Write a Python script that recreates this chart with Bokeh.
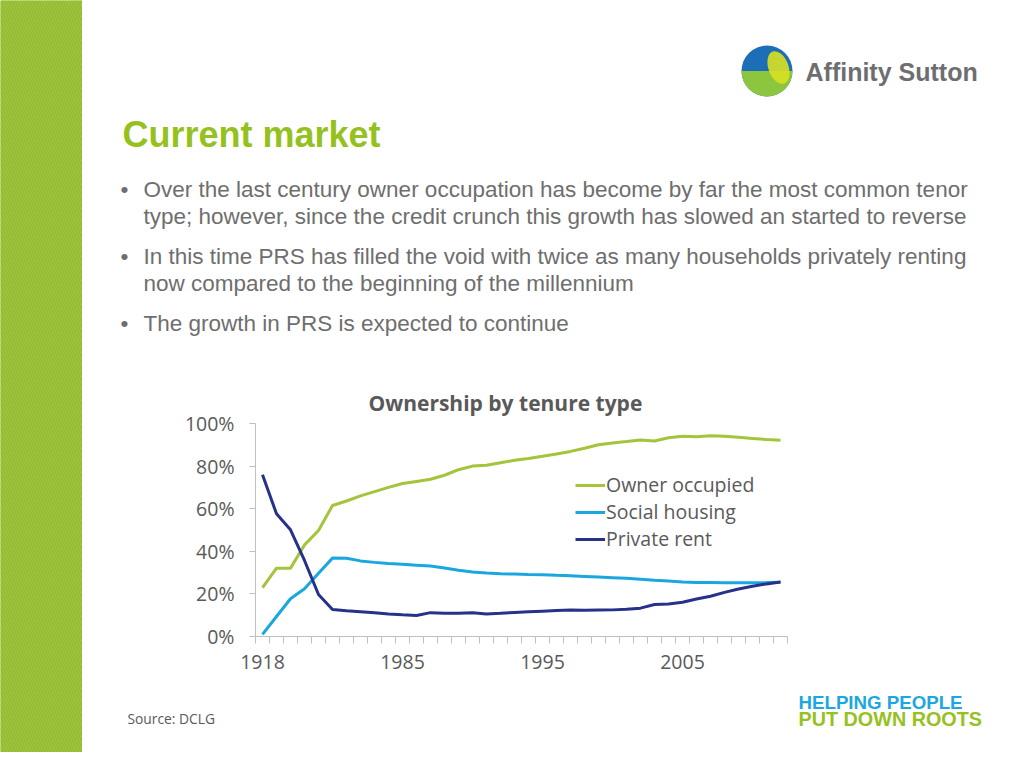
import math
from bokeh.plotting import figure
from bokeh.layouts import row, column
from bokeh.models import (Range1d, FixedTicker, PrintfTickFormatter, Label,
                          BoxAnnotation, Legend, LegendItem)
from bokeh.embed import file_html
from bokeh.resources import INLINE

# ---------------- data ----------------
years = ["1918", "1939", "1953", "1961", "1971", "1980", "1981", "1982", "1983", "1984",
         "1985", "1986", "1987", "1988", "1989", "1990", "1991", "1992", "1993", "1994",
         "1995", "1996", "1997", "1998", "1999", "2000", "2001", "2002", "2003", "2004",
         "2005", "2006", "2007", "2008", "2009", "2010", "2011", "2012"]
owner_occupied = [22.9, 32.1, 32.1, 43.0, 49.8, 61.5, 63.6, 66.0, 68.0, 70.0,
                  71.8, 72.8, 73.8, 75.7, 78.3, 80.0, 80.4, 81.6, 82.7, 83.6,
                  84.6, 85.7, 86.9, 88.4, 90.0, 90.8, 91.5, 92.3, 91.8, 93.3,
                  94.0, 93.8, 94.2, 94.0, 93.5, 93.0, 92.5, 92.1]
social_housing = [1.0, 9.4, 17.7, 22.4, 29.7, 36.8, 36.7, 35.5, 34.8, 34.3,
                  33.9, 33.5, 33.1, 32.2, 31.1, 30.3, 29.8, 29.5, 29.3, 29.1,
                  29.0, 28.7, 28.5, 28.2, 27.9, 27.6, 27.3, 26.9, 26.4, 26.0,
                  25.6, 25.4, 25.3, 25.2, 25.2, 25.2, 25.3, 25.5]
private_rent = [75.9, 57.6, 50.1, 35.7, 19.7, 12.7, 12.1, 11.6, 11.1, 10.6,
                10.2, 9.9, 11.2, 10.9, 10.9, 11.2, 10.6, 10.9, 11.3, 11.6,
                11.9, 12.2, 12.4, 12.3, 12.4, 12.5, 12.8, 13.3, 15.0, 15.3,
                16.1, 17.6, 18.9, 20.7, 22.3, 23.6, 24.7, 25.6]
series_names = ["Owner occupied", "Social housing", "Private rent"]
y_ticks = [0, 20, 40, 60, 80, 100]
label_every = 10

title_text = "Current market"
bullets = [
    ["Over the last century owner occupation has become by far the most common tenor",
     "type; however, since the credit crunch this growth has slowed an started to reverse"],
    ["In this time PRS has filled the void with twice as many households privately renting",
     "now compared to the beginning of the millennium"],
    ["The growth in PRS is expected to continue"],
]
chart_title = "Ownership by tenure type"
source_text = "Source: DCLG"
logo_text = "Affinity Sutton"
strap_lines = ["HELPING PEOPLE", "PUT DOWN ROOTS"]

# ---------------- styles ----------------
GREEN = "#a3c43b"
LBLUE = "#1aa7e0"
NAVY = "#26318a"
GRAY_TXT = "#6e6e6e"
AX_TXT = "#595959"
AX_LINE = "#bfbfbf"
CH_FONT = "Open Sans"
CH_SIZE = "19.5px"

TOTAL_W, TOTAL_H = 1008, 752
STRIPE_W = 82
RIGHT_W = TOTAL_W - STRIPE_W
HEAD_H, CHART_H = 378, 302
FOOT_H = TOTAL_H - HEAD_H - CHART_H


def blank(width, height, x0, x1, y0, y1):
    f = figure(width=width, height=height, output_backend="svg", toolbar_location=None,
               x_range=Range1d(x0, x1), y_range=Range1d(y1, y0),
               x_axis_type=None, y_axis_type=None, min_border=0, frame_align=False)
    f.grid.visible = False
    f.outline_line_color = None
    f.background_fill_color = "white"
    f.border_fill_color = "white"
    return f


def text(f, x, y, s, size, color, font="Liberation Sans", style="normal",
         align="left"):
    # y is the visual centre of the text line
    f.add_layout(Label(x=x, y=y, text=s, text_font=font, text_font_size=size,
                       text_font_style=style, text_color=color,
                       text_align=align, text_baseline="middle"))


# ---------------- left stripe ----------------
stripe = figure(width=STRIPE_W, height=TOTAL_H, output_backend="svg", toolbar_location=None,
                x_range=Range1d(0, 1), y_range=Range1d(0, 1),
                x_axis_type=None, y_axis_type=None, min_border=0, frame_align=False)
stripe.grid.visible = False
stripe.outline_line_color = None
stripe.background_fill_color = "#a0c53d"
stripe.border_fill_color = "#a0c53d"
stripe.add_layout(BoxAnnotation(fill_color="#a0c53d", fill_alpha=1, line_color=None,
                                hatch_pattern="left_diagonal_line", hatch_color="#94ba34",
                                hatch_scale=6, hatch_weight=1.5))

# ---------------- header (page pixel coordinates) ----------------
head = blank(RIGHT_W, HEAD_H, STRIPE_W, TOTAL_W, 0, HEAD_H)
head.circle(x=[766.5], y=[70.5], radius=25.5, fill_color="#1c6fb7", line_color=None)
head.wedge(x=[766.5], y=[70.5], radius=25.5, start_angle=math.pi * 1.0,
           end_angle=math.pi * 2.0, fill_color="#8cc63f", line_color=None)
head.ellipse(x=[778], y=[67], width=20, height=34, angle=0.35,
             fill_color="#d9e021", fill_alpha=0.9, line_color=None)
text(head, 805, 71, logo_text, "25px", "#6d6e71", style="bold")

text(head, 122, 134, title_text, "36px", "#95c11f", style="bold")
line_centres = [[189, 216], [256, 283], [323]]
for group, ys in zip(bullets, line_centres):
    text(head, 120, ys[0], "\u2022", "22.5px", GRAY_TXT)
    for line, yc in zip(group, ys):
        text(head, 143, yc, line, "22.5px", GRAY_TXT)

# ---------------- chart ----------------
xs = list(range(len(years)))
FRAME_L = 255 - STRIPE_W
p = figure(width=RIGHT_W, height=CHART_H, output_backend="svg", toolbar_location=None,
           x_range=Range1d(-0.5, len(years) - 0.5), y_range=Range1d(0, 100),
           min_border_left=FRAME_L, min_border_right=RIGHT_W - FRAME_L - 532,
           min_border_top=423 - HEAD_H, min_border_bottom=CHART_H - (636 - HEAD_H),
           title=chart_title, frame_align=False)
p.outline_line_color = None
p.grid.visible = False
p.background_fill_color = "white"
p.border_fill_color = "white"
p.title.text_font = CH_FONT
p.title.text_font_size = "21px"
p.title.text_font_style = "bold"
p.title.text_color = AX_TXT
p.title.align = "left"
p.title.offset = 368 - 255
p.title.standoff = 13

r_own = p.line(xs, owner_occupied, line_color=GREEN, line_width=3)
r_soc = p.line(xs, social_housing, line_color=LBLUE, line_width=3)
r_prv = p.line(xs, private_rent, line_color=NAVY, line_width=3)

xa = p.xaxis[0]
xa.ticker = FixedTicker(ticks=[i for i in xs if i % label_every == 0],
                        minor_ticks=[i - 0.5 for i in range(len(years) + 1)])
xa.major_label_overrides = {i: years[i] for i in xs if i % label_every == 0}
xa.major_tick_out = 0
xa.major_tick_in = 0
xa.minor_tick_out = 7
xa.minor_tick_in = 0
xa.minor_tick_line_color = AX_LINE
xa.axis_line_color = AX_LINE
xa.major_label_text_font = CH_FONT
xa.major_label_text_font_size = CH_SIZE
xa.major_label_text_color = AX_TXT
xa.major_label_standoff = 11

ya = p.yaxis[0]
ya.ticker = FixedTicker(ticks=y_ticks, minor_ticks=[])
ya.formatter = PrintfTickFormatter(format="%d%%")
ya.major_tick_out = 6
ya.major_tick_in = 0
ya.minor_tick_out = 0
ya.major_tick_line_color = AX_LINE
ya.axis_line_color = AX_LINE
ya.major_label_text_font = CH_FONT
ya.major_label_text_font_size = CH_SIZE
ya.major_label_text_color = AX_TXT
ya.major_label_standoff = 15

legend = Legend(items=[LegendItem(label=series_names[0], renderers=[r_own]),
                       LegendItem(label=series_names[1], renderers=[r_soc]),
                       LegendItem(label=series_names[2], renderers=[r_prv])],
                location=(320, 84), padding=0, margin=0, spacing=0,
                glyph_width=30, glyph_height=24, label_height=24, label_standoff=1,
                border_line_color=None, background_fill_alpha=0,
                label_text_font=CH_FONT, label_text_font_size=CH_SIZE,
                label_text_color=AX_TXT)
p.add_layout(legend)

# ---------------- footer ----------------
foot = blank(RIGHT_W, FOOT_H, STRIPE_W, TOTAL_W, HEAD_H + CHART_H, TOTAL_H)
text(foot, 127, 718, source_text, "13.8px", AX_TXT, font="Open Sans")
text(foot, 798, 702, strap_lines[0], "18.7px", "#1ca7e0", style="bold")
text(foot, 798, 718, strap_lines[1], "19.8px", "#96c11f", style="bold")

layout = row(stripe, column(head, p, foot, spacing=0), spacing=0)
open("out.html", "w").write(file_html(layout, INLINE))
